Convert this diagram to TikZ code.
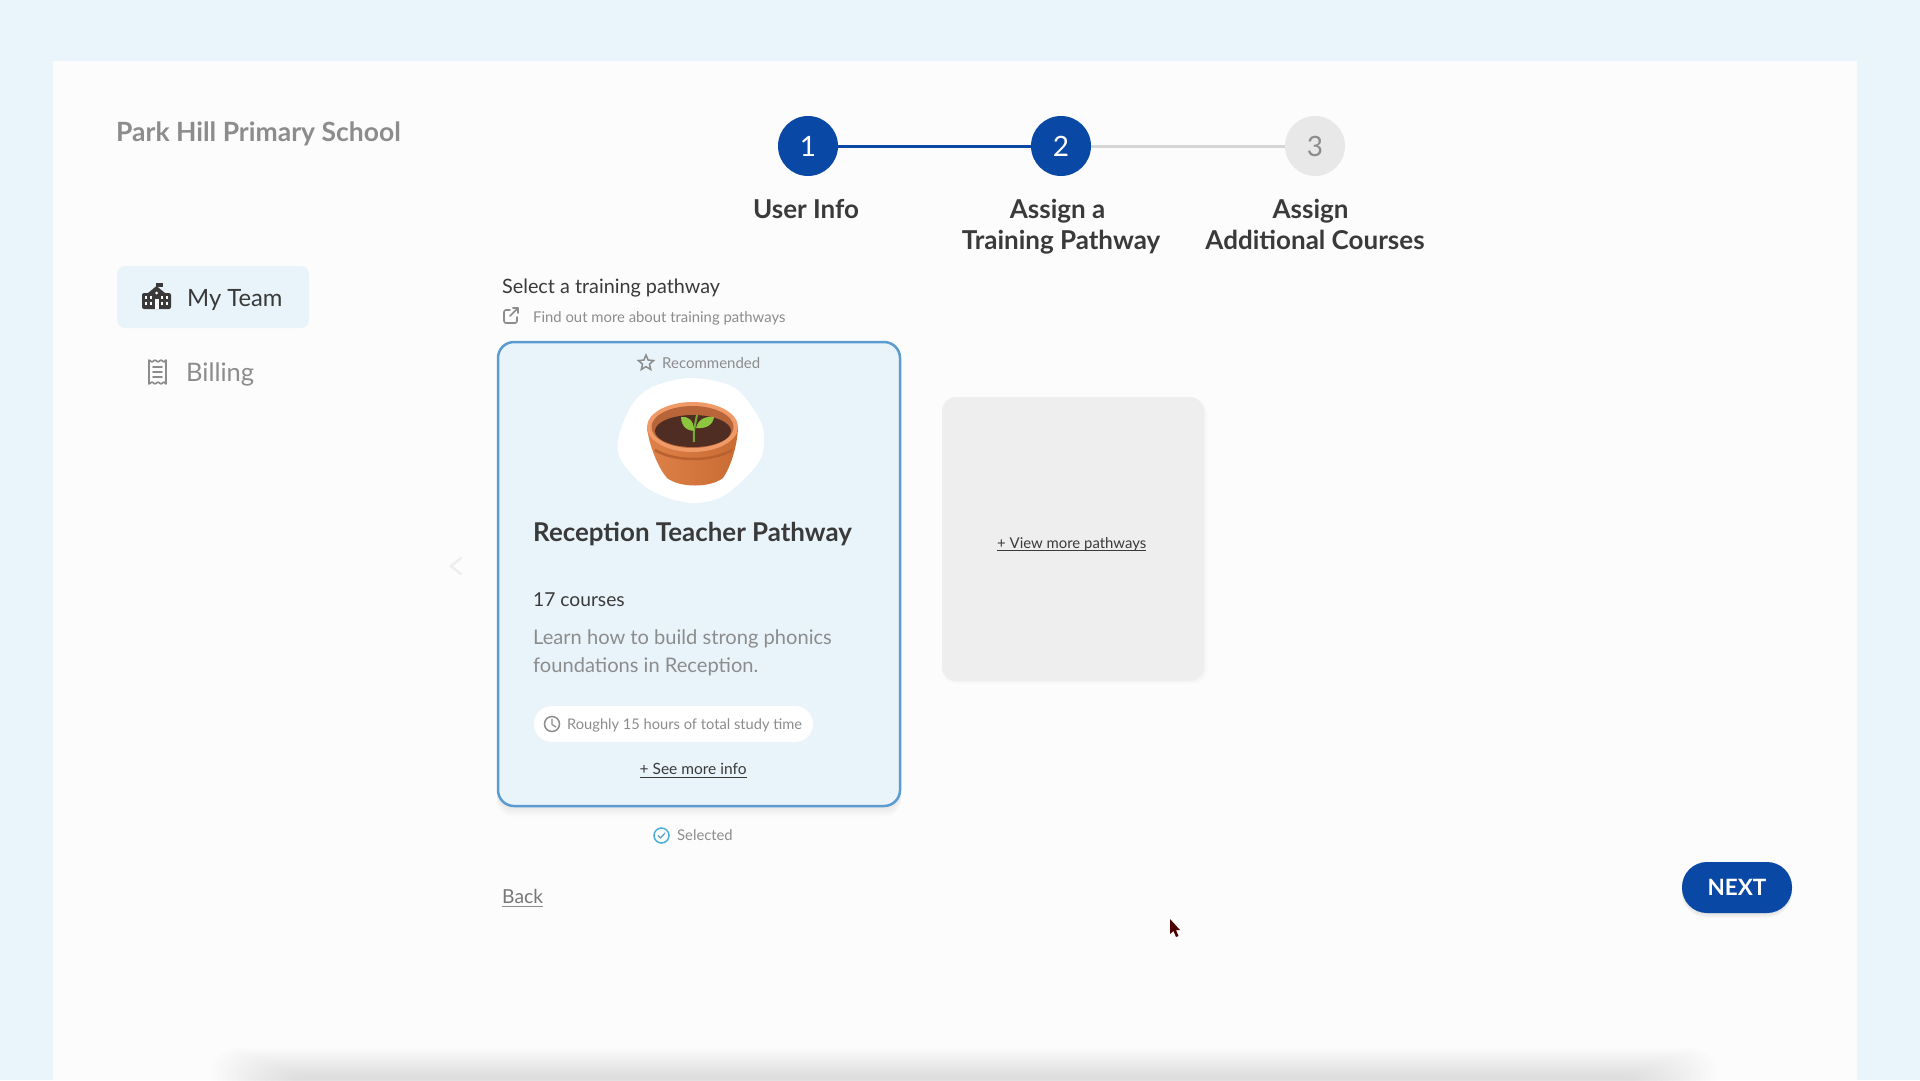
\documentclass[tikz,border=0pt]{standalone}
\usepackage{fontspec}
\setmainfont{Lato}
\usetikzlibrary{shapes.geometric}
\definecolor{pagebg}{HTML}{E9F5FB}
\definecolor{panelbg}{HTML}{FCFCFC}
\definecolor{cardbg}{HTML}{E9F4FA}
\definecolor{cardline}{HTML}{5B9BD0}
\definecolor{stepblue}{HTML}{0A48A5}
\definecolor{stepgrey}{HTML}{E8E8E8}
\definecolor{linegrey}{HTML}{D6D6D6}
\definecolor{moregrey}{HTML}{EEEEEE}
\definecolor{darktext}{HTML}{3A3A3A}
\definecolor{midtext}{HTML}{8C8C8C}
\definecolor{potbody}{HTML}{DE8148}
\definecolor{potshade}{HTML}{C96C34}
\definecolor{potrim}{HTML}{F09A68}
\definecolor{potwall}{HTML}{B9653A}
\definecolor{potband}{HTML}{B9602F}
\definecolor{potsoil}{HTML}{4F2D22}
\definecolor{leafgreen}{HTML}{8CC63F}
\tikzset{
    txt/.style={inner sep=0pt, anchor=base west, font=\fontsize{#1}{#1}\selectfont},
    med/.style={inner sep=0pt, anchor=base, font=\bfseries\fontsize{#1}{31}\selectfont},
    stepdot/.style={circle, minimum size=60pt, inner sep=0pt, font=\fontsize{28}{28}\selectfont},
    stepline/.style={line width=3pt},
    iconline/.style={line width=1.6pt, line join=round, line cap=round}
}
\begin{document}
\begin{tikzpicture}[x=1pt,y=-1pt]
    \useasboundingbox (0,0) rectangle (1920,1080);
    \fill[pagebg] (0,0) rectangle (1920,1080);
    \fill[panelbg] (53,61) rectangle (1857,1080);
    \begin{scope}
        \clip (53,1000) rectangle (1857,1080);
        \foreach \s in {0,...,14} {
            \fill[black, opacity=0.007, rounded corners=24pt] (212+5*\s,1048+2*\s) rectangle (1716-5*\s,1110);
        }
    \end{scope}

    \node[txt=26, text=midtext, font=\bfseries\fontsize{26.5}{26.5}\selectfont] (school) at (116,141) {Park Hill Primary School};

    \node[stepdot, fill=stepblue, text=white] (s1) at (808,146) {1};
    \node[stepdot, fill=stepblue, text=white] (s2) at (1061,146) {2};
    \node[stepdot, fill=stepgrey, text=midtext] (s3) at (1315,146) {3};
    \path (s1) edge[stepline, stepblue] (s2);
    \path (s2) edge[stepline, linegrey] (s3);
    \node[med=26, text=darktext] (l1) at (806,218) {User Info};
    \node[med=26, text=darktext, align=center] (l2) at (1061,249) {Assign a\hspace*{7pt}\\Training Pathway};
    \node[med=26, text=darktext, align=center] (l3) at (1315,249) {Assign\hspace*{9pt}\\Additional Courses};

    \fill[cardbg, rounded corners=8pt] (117,266) rectangle (309,328);
    \begin{scope}[darktext]
        \fill[rounded corners=2pt] (142,293) rectangle (171,309);
        \fill (148,293) -- (156.5,286) -- (165,293) -- cycle;
        \fill (155.5,283) rectangle (163,287);
        \foreach \wx in {146,151,162,167} {
            \fill[white] (\wx-1,296) rectangle (\wx+1,298.5);
            \fill[white] (\wx-1,302) rectangle (\wx+1,304.5);
        }
        \fill[white] (155,299) rectangle (158.5,309);
        \fill[white] (156.7,293) circle (1.5);
    \end{scope}
    \node[txt=23.8, text=darktext] (team) at (187,306) {My Team};

    \draw[iconline, midtext] (149,360) -- (149,384) -- (152,382) -- (155,384) -- (158,382) -- (161,384) -- (164,382) -- (166,384) -- (166,360) -- (164,362) -- (161,360) -- (158,362) -- (155,360) -- (152,362) -- cycle;
    \foreach \ly in {367,372,377} {
        \draw[iconline, midtext] (153,\ly) -- (162,\ly);
    }
    \node[txt=25.5, text=midtext] (billing) at (186,381.5) {Billing};

    \node[txt=19.8, text=darktext] (select) at (502,293) {Select a training pathway};
    \draw[iconline, midtext, rounded corners=2pt] (510,310) -- (504,310) -- (504,323) -- (517,323) -- (517,317);
    \draw[iconline, midtext] (510,316) -- (518,308) (513,308) -- (518,308) -- (518,313);
    \node[txt=14.85, text=midtext] (find) at (533,322) {Find out more about training pathways};

    \draw[moregrey, line width=2.5pt, line cap=round] (461,558) -- (451,566) -- (461,574);

    \foreach \s in {1,...,6} {
        \fill[black, opacity=0.012, rounded corners=16pt] (497,343) rectangle (901,807+1.6*\s);
    }
    \node[draw=cardline, fill=cardbg, line width=2.5pt, rounded corners=16pt, minimum width=402pt, minimum height=464pt, inner sep=0pt] (card) at (699,574) {};

    \node[star, star points=5, star point ratio=2.2, draw=midtext, line width=1.5pt, minimum size=16pt, inner sep=0pt] (star) at (646,363) {};
    \node[txt=15, text=midtext] (recommended) at (662,368) {Recommended};

    \fill[white] plot[smooth cycle] coordinates {(650,388) (690,378) (735,388) (762,425) (760,460) (725,495) (690,503) (650,490) (622,462) (618,440) (630,408)};
    \shade[left color=potbody, right color=potshade] (647,428) .. controls (650,450) and (660,470) .. (667,478) .. controls (680,488) and (710,488) .. (723,478) .. controls (730,468) and (737,448) .. (738,428) -- cycle;
    \draw[potband, line width=2.5pt] (655,450) .. controls (675,462) and (712,462) .. (732,450);
    \fill[potrim] (692.5,427) ellipse (45.5 and 25);
    \fill[potwall] (692.5,427) ellipse (41 and 21);
    \fill[potsoil] (693,431) ellipse (38 and 16);
    \draw[leafgreen!85!black, line width=2pt] (694,442) .. controls (693,432) and (695,425) .. (697,415);
    \fill[leafgreen] (694,431) .. controls (684,430) and (681,424) .. (681,417) .. controls (688,416) and (694,420) .. (694,431) -- cycle;
    \fill[leafgreen] (696,428) .. controls (698,419) and (706,416) .. (714,417) .. controls (713,425) and (706,429) .. (696,428) -- cycle;

    \node[txt=25, text=darktext, font=\bfseries\fontsize{25.9}{25.9}\selectfont] (pathway) at (533,541) {Reception Teacher Pathway};
    \node[txt=19.2, text=darktext] (courses) at (533,606) {17 courses};
    \node[inner sep=0pt, anchor=base west, align=left, text=midtext, font=\fontsize{20.1}{28}\selectfont] (learn) at (533,672) {Learn how to build strong phonics\\foundations in Reception.};

    \fill[white, rounded corners=18pt] (534,706) rectangle (813,742);
    \node[circle, draw=midtext, line width=1.5pt, minimum size=15pt, inner sep=0pt] (clock) at (552,724) {};
    \draw[iconline, midtext, line width=1.2pt] (552,719) -- (552,724.5) -- (556,727);
    \node[txt=14.66, text=midtext] (hours) at (567,729.5) {Roughly 15 hours of total study time};
    \node[txt=15.5, text=darktext] (more) at (639.5,774.5) {+ See more info};
    \draw[darktext, line width=0.9pt] ([yshift=-2.5pt]more.base west) -- ([yshift=-2.5pt]more.base east);

    \node[circle, draw=cardline!80!cyan, line width=1.5pt, minimum size=15pt, inner sep=0pt] (tick) at (661.5,835.5) {};
    \draw[iconline, cardline, line width=1.2pt] (658,835.5) -- (660.5,838) -- (665,833);
    \node[txt=14.8, text=midtext] (selected) at (677,840.5) {Selected};

    \node[txt=19.3, text=midtext!85!black] (back) at (502,903) {Back};
    \draw[midtext, line width=1pt] ([yshift=-3pt]back.base west) -- ([yshift=-3pt]back.base east);

    \foreach \s in {1,...,4} {
        \fill[black, opacity=0.008, rounded corners=14pt] (942,400) rectangle (1204+\s,680+\s);
    }
    \node[fill=moregrey, rounded corners=14pt, minimum width=262pt, minimum height=284pt, inner sep=0pt] (viewcard) at (1073,539) {};
    \node[txt=14.9, text=darktext] (view) at (997,548) {+ View more pathways};
    \draw[darktext, line width=0.9pt] ([yshift=-2.5pt]view.base west) -- ([yshift=-2.5pt]view.base east);

    \foreach \s in {1,...,6} {
        \fill[black, opacity=0.018, rounded corners=25pt] (1682,864) rectangle (1792,912+\s);
    }
    \node[fill=stepblue, text=white, rounded corners=25pt, minimum width=110pt, minimum height=51pt, inner sep=0pt, font=\bfseries\fontsize{22.5}{22.5}\selectfont] (next) at (1737,887.5) {NEXT};

    \fill[black!70!red] (1170,919) -- (1170,934) -- (1173.5,931) -- (1176,937) -- (1178.5,936) -- (1176,930) -- (1180,930) -- cycle;
\end{tikzpicture}
\end{document}
